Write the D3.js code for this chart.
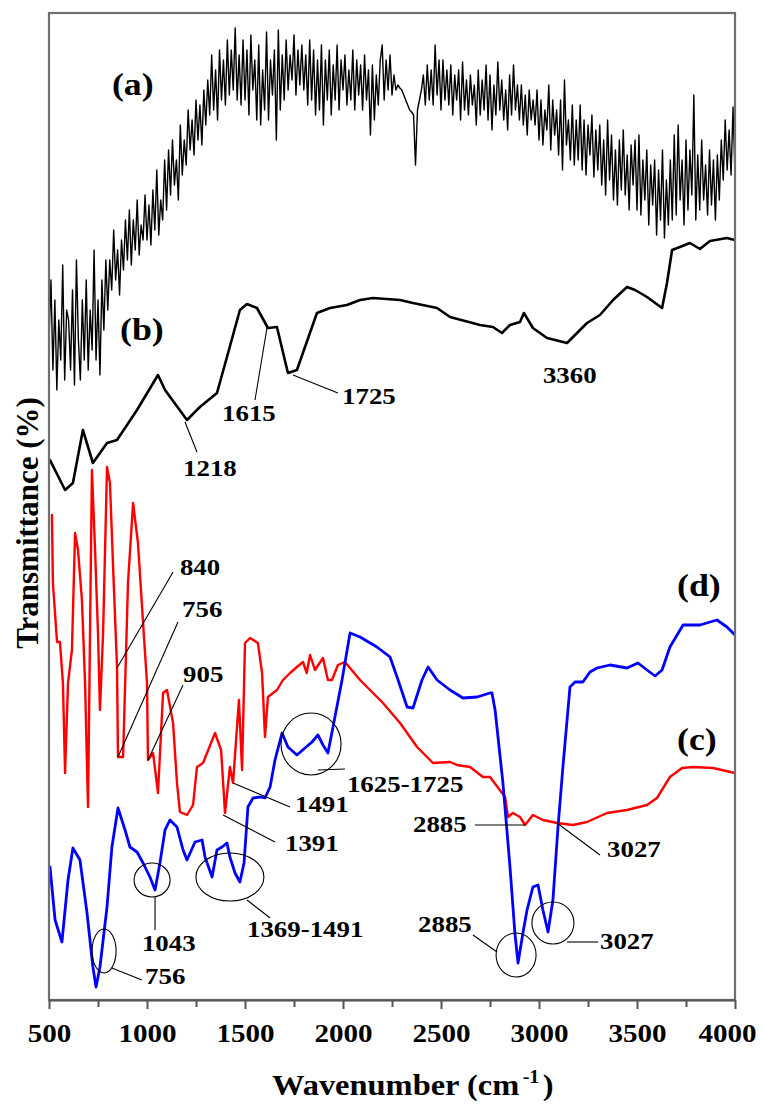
<!DOCTYPE html>
<html>
<head>
<meta charset="utf-8">
<script src="https://cdnjs.cloudflare.com/ajax/libs/d3/7.8.5/d3.min.js"></script>
<style>
  body { margin: 0; background: #fff; }
  svg text { font-family: "Liberation Serif", "Times New Roman", Times, serif; font-weight: bold; fill: #000; }
</style>
</head>
<body>
<svg id="chart" width="764" height="1106"></svg>
<script>
// wavenumber (cm-1), transmittance (arbitrary offset units)
const specA = [
  [500,66],[510,72],[520,63],[530,70],[540,61],[550,68],[560,64],[570,73.5],[580,62],[590,69],
  [600,68],[610,63],[620,71],[630,61.5],[640,74],[650,66],[660,62],[670,70],[680,64],[690,72],
  [700,63],[710,69],[720,65],[730,75],[740,64],[750,70],[760,62.5],[770,72],[780,67],[790,74],
  [800,69],[810,74],[820,71],[830,77],[840,72],[850,75],[860,70.5],[870,76],[880,73],[890,78],
  [900,74],[910,79],[920,73.5],[930,78],[940,75],[950,80],[960,74.5],[970,77.5],[980,76],[990,80.5],
  [1000,76],[1010,79.5],[1020,75.5],[1030,81],[1040,77],[1050,83],[1060,76.5],[1070,80],[1080,78],[1090,84],
  [1100,79],[1110,85],[1120,80.5],[1130,86],[1140,81.5],[1150,84],[1160,80],[1170,87.5],[1180,82.5],[1190,86],
  [1200,83.5],[1210,89],[1220,85],[1230,88],[1240,84.5],[1250,90],[1260,86],[1270,89.5],[1280,85.5],[1290,91],
  [1300,87.5],[1310,92],[1320,88.5],[1330,94.5],[1340,89],[1350,93],[1360,88],[1370,95],[1380,90],[1390,94],
  [1400,89.5],[1410,96],[1420,90.5],[1430,95],[1440,91],[1450,97.2],[1460,90],[1470,94.5],[1480,89.5],[1490,96],
  [1500,90],[1510,95],[1520,88.5],[1530,96.5],[1540,91],[1550,94],[1560,88],[1570,95.5],[1580,87.5],[1590,93],
  [1600,89],[1610,96.8],[1620,88],[1630,94],[1640,90.5],[1650,95],[1660,86],[1670,97],[1680,89],[1690,94.5],
  [1700,90],[1710,96],[1720,91],[1730,94.5],[1740,92],[1750,96.5],[1760,90.5],[1770,95],[1780,91.5],[1790,95.5],
  [1800,91],[1810,94.5],[1820,89.5],[1830,96],[1840,90],[1850,95],[1860,88.5],[1870,94],[1880,89],[1890,95.5],
  [1900,87.5],[1910,94],[1920,90],[1930,95],[1940,88.5],[1950,93.5],[1960,90],[1970,95.5],[1980,89],[1990,94],
  [2000,91],[2010,94.5],[2020,89.5],[2030,93],[2040,90],[2050,95],[2060,89],[2070,94],[2080,90.5],[2090,93.5],
  [2100,89],[2110,94.5],[2120,90],[2130,93],[2140,86.5],[2150,93.5],[2160,88],[2170,92.5],[2180,89.5],[2190,94],
  [2200,95.5],[2210,90],[2220,94],[2230,91],[2240,94.5],[2250,90.5],[2260,92.5],[2270,91],[2280,91.5],[2290,91.2],
  [2300,91],[2310,90.5],[2320,90],[2330,89.5],[2340,89],[2350,88.8],[2360,88.5],[2370,83.5],[2380,89],[2390,90],
  [2400,91],[2410,92.5],[2420,89.5],[2430,93.5],[2440,90],[2450,93],[2460,89.5],[2470,95.5],[2480,90.5],[2490,94],
  [2500,89],[2510,94],[2520,90],[2530,93],[2540,89.5],[2550,93.5],[2560,88.5],[2570,92.5],[2580,90],[2590,93],
  [2600,88],[2610,93.8],[2620,89],[2630,92],[2640,88.5],[2650,92.5],[2660,89.5],[2670,91.5],[2680,87.5],[2690,93],
  [2700,88.5],[2710,92],[2720,89],[2730,93.5],[2740,88],[2750,92.5],[2760,87],[2770,91.5],[2780,88.5],[2790,93.8],
  [2800,89],[2810,92],[2820,88],[2830,91],[2840,87],[2850,92.5],[2860,88.5],[2870,93.5],[2880,89],[2890,91.5],
  [2900,88],[2910,91.5],[2920,87.5],[2930,90.5],[2940,86.5],[2950,91],[2960,88],[2970,90],[2980,87.5],[2990,91],
  [3000,86],[3010,90],[3020,85.5],[3030,89],[3040,87],[3050,91.5],[3060,85],[3070,90],[3080,86.5],[3090,89],
  [3100,84.5],[3110,90],[3120,83],[3130,92],[3140,85.5],[3150,88],[3160,84],[3170,89.5],[3180,83.5],[3190,88],
  [3200,84],[3210,89.5],[3220,83],[3230,88],[3240,82.5],[3250,87.5],[3260,84.5],[3270,88.5],[3280,82.3],[3290,87],
  [3300,83],[3310,87.5],[3320,81.5],[3330,86],[3340,80.5],[3350,88],[3360,82],[3370,86.5],[3380,80],[3390,85],
  [3400,79.5],[3410,86],[3420,81],[3430,87],[3440,80.5],[3450,84.5],[3460,79],[3470,85.5],[3480,81.5],[3490,86],
  [3500,79],[3510,86.5],[3520,78.5],[3530,84],[3540,80],[3550,85],[3560,77.5],[3570,83.5],[3580,79.5],[3590,84],
  [3600,76.5],[3610,83],[3620,78],[3630,85],[3640,76.2],[3650,82],[3660,77.5],[3670,84],[3680,78],[3690,86.5],
  [3700,78.5],[3710,87.5],[3720,80],[3730,84],[3740,77.5],[3750,86],[3760,79],[3770,85],[3780,80.5],[3790,90.5],
  [3800,78],[3810,84.5],[3820,79],[3830,86],[3840,80],[3850,83.5],[3860,78.5],[3870,85],[3880,79.5],[3890,84],
  [3900,78],[3910,84.5],[3920,80],[3930,86],[3940,82],[3950,88],[3960,83],[3970,87],[3980,82.5],[3990,89.3],
  [4000,82.5]
];

const specB = [
  [505,54.0],[582,51.0],[622,51.7],[673,57.0],[724,53.7],[796,55.7],[847,56.0],[949,59.0],[1056,62.5],[1092,61.0],
  [1204,58.0],[1270,59.3],[1357,60.7],[1408,64.3],[1474,69.0],[1510,69.6],[1561,69.2],[1617,67.2],[1663,67.3],[1719,62.7],
  [1765,63.0],[1867,68.7],[1934,69.2],[2020,69.5],[2087,70.0],[2153,70.2],[2291,70.0],[2357,69.7],[2480,69.2],[2546,68.3],
  [2699,67.5],[2765,67.3],[2811,66.7],[2852,67.5],[2903,67.8],[2923,68.7],[2969,67.2],[3041,66.2],[3143,65.7],[3245,67.7],
  [3311,68.5],[3378,70.0],[3449,71.3],[3490,71.0],[3551,70.3],[3628,69.2],[3653,71.7],[3679,75.0],[3719,75.3],[3770,75.7],
  [3821,75.1],[3872,75.9],[3959,76.2],[4000,76.0]
];

const specC = [
  [515,48.5],[520,41.7],[541,35.8],[556,35.8],[571,31.7],[582,22.7],[597,31.7],[617,35.0],[633,46.7],[648,45.0],
  [668,40.0],[684,31.7],[699,19.3],[719,53.0],[735,45.0],[750,36.7],[760,29.0],[776,36.7],[796,53.3],[811,51.7],
  [827,43.3],[847,33.3],[852,24.3],[878,24.3],[903,41.7],[929,49.7],[954,45.7],[980,37.7],[1000,31.7],[1005,24.0],
  [1031,24.7],[1056,20.7],[1082,30.7],[1102,31.0],[1133,27.7],[1153,21.7],[1168,18.8],[1204,18.5],[1235,19.5],[1255,23.3],
  [1286,23.7],[1347,26.7],[1378,25.0],[1398,18.7],[1423,23.3],[1439,21.7],[1469,30.0],[1485,23.0],[1500,35.7],[1526,36.2],
  [1566,35.7],[1587,32.7],[1602,26.3],[1617,30.3],[1663,31.0],[1694,32.0],[1730,32.7],[1765,33.3],[1796,33.8],[1815,32.7],
  [1832,34.5],[1857,33.0],[1898,34.2],[1923,32.0],[1944,32.0],[1974,33.5],[2010,33.8],[2087,32.0],[2204,29.7],[2291,27.7],
  [2378,25.3],[2459,23.7],[2546,23.8],[2582,23.5],[2648,23.3],[2714,22.3],[2750,22.3],[2827,20.3],[2842,18.3],[2867,18.7],
  [2903,18.3],[2929,17.5],[2969,18.5],[3020,18.0],[3092,17.7],[3173,17.5],[3245,17.8],[3347,18.7],[3449,19.0],[3551,19.5],
  [3602,20.2],[3668,22.3],[3730,23.2],[3786,23.3],[3888,23.2],[4000,22.7]
];

const specD = [
  [505,13.3],[531,8.0],[566,5.8],[597,12.0],[622,15.2],[658,14.0],[694,8.7],[724,3.3],[740,1.3],[760,3.3],
  [796,9.3],[821,15.3],[852,19.2],[888,17.0],[913,15.3],[949,14.8],[980,13.7],[1015,12.3],[1041,11.0],[1066,13.7],
  [1092,17.0],[1117,18.0],[1153,17.3],[1184,15.0],[1204,14.0],[1245,15.8],[1281,16.0],[1296,14.3],[1332,12.3],[1357,15.0],
  [1383,15.3],[1408,15.7],[1423,14.3],[1449,12.7],[1474,11.8],[1495,13.7],[1515,19.3],[1541,20.2],[1577,20.3],[1602,20.2],
  [1628,21.3],[1653,24.0],[1689,26.7],[1719,25.3],[1765,24.5],[1806,25.2],[1842,25.8],[1872,26.5],[1898,25.5],[1923,24.7],
  [1949,27.3],[1995,32.0],[2036,36.7],[2087,36.3],[2173,35.3],[2240,34.3],[2281,32.0],[2327,29.3],[2357,29.2],[2403,32.0],
  [2434,33.3],[2480,32.0],[2546,31.0],[2612,30.2],[2684,30.3],[2750,30.7],[2760,30.7],[2776,29.0],[2816,21.7],[2852,13.3],
  [2877,6.7],[2893,3.7],[2918,6.7],[2939,9.0],[2969,11.3],[2995,11.5],[3020,9.0],[3046,6.8],[3071,10.0],[3097,17.3],
  [3122,23.3],[3158,31.3],[3184,31.8],[3224,31.8],[3260,32.8],[3296,33.2],[3362,33.5],[3449,33.2],[3505,33.7],[3551,33.0],
  [3592,32.4],[3628,33.0],[3668,35.3],[3735,37.5],[3821,37.5],[3908,38.0],[3959,37.3],[4000,36.5]
];

const xTicks = [500, 1000, 1500, 2000, 2500, 3000, 3500, 4000];
const xMinorTicks = [750, 1250, 1750, 2250, 2750, 3250, 3750];

// series labels: [text, wavenumber, T]
const seriesLabels = [
  ["(a)", 821, 90.5], ["(b)", 862, 66.0], ["(d)", 3704, 40.4], ["(c)", 3704, 25.0]
];

// peak notes: text, text anchor (w,T), leader from/to (w,T), optional ellipse centre (w,T) + radii
const notes = [
  {t: "1615", at: [1383, 57.9], l: [[1612, 67.2], [1551, 60.0]]},
  {t: "1725", at: [1995, 59.6], l: [[1745, 62.5], [1974, 60.7]]},
  {t: "1218", at: [1184, 52.4], l: [[1194, 57.8], [1255, 54.8]]},
  {t: "3360", at: [3020, 61.7]},
  {t: "840",  at: [1168, 42.5], l: [[847, 33.2], [1133, 42.8]]},
  {t: "756",  at: [1179, 38.3], l: [[852, 24.3], [1158, 37.8]]},
  {t: "905",  at: [1184, 31.8], l: [[1005, 24.0], [1184, 31.5]]},
  {t: "1491", at: [1755, 18.8], l: [[1439, 21.7], [1730, 19.3]]},
  {t: "1625-1725", at: [2020, 20.8], l: [[1872, 23.0], [2010, 23.1]], e: [1837, 25.6, 30, 31]},
  {t: "1391", at: [1704, 14.9], l: [[1388, 18.5], [1653, 15.8]]},
  {t: "1043", at: [974, 4.9], l: [[1041, 10.3], [1041, 7.0]], e: [1026, 12.0, 18, 17]},
  {t: "1369-1491", at: [1510, 6.3], l: [[1510, 10.0], [1628, 8.2]], e: [1423, 12.3, 34, 24]},
  {t: "756",  at: [990, 1.6], l: [[821, 3.2], [974, 2.0]], e: [781, 4.9, 12, 22]},
  {t: "2885", at: [2357, 16.8], l: [[2673, 17.5], [2929, 17.5]]},
  {t: "3027", at: [3347, 14.3], l: [[3092, 17.7], [3311, 14.5]]},
  {t: "2885", at: [2383, 6.8], l: [[2663, 6.5], [2786, 4.8]], e: [2883, 4.5, 20, 22]},
  {t: "3027", at: [3311, 5.1], l: [[3143, 5.8], [3301, 5.8]], e: [3071, 7.7, 21, 21]}
];

const svg = d3.select("#chart");
const margin = {top: 13, right: 29, bottom: 106, left: 49};
const width = 764 - margin.left - margin.right;
const height = 1106 - margin.top - margin.bottom;
const sx = 1.12; // the original figure is a little stretched sideways

const x = d3.scaleLinear().domain([500, 4000]).range([0, width]);
const y = d3.scaleLinear().domain([0, height / 10]).range([height, 0]);

const g = svg.append("g").attr("transform", `translate(${margin.left},${margin.top})`);

g.append("clipPath").attr("id", "plotclip")
  .append("rect").attr("width", width).attr("height", height);

function text(sel, str, px, py, size, anchor) {
  return sel.append("text")
    .attr("transform", `translate(${px},${py}) scale(${sx},1)`)
    .attr("text-anchor", anchor || "start")
    .style("font-size", size + "px")
    .text(str);
}

// spectra
const line = d3.line().x(d => x(d[0])).y(d => y(d[1]));
const curves = g.append("g").attr("clip-path", "url(#plotclip)")
  .attr("fill", "none").attr("stroke-linejoin", "round").attr("stroke-linecap", "round");
curves.append("path").datum(specA).attr("d", line).attr("stroke", "#000").attr("stroke-width", 1.4);
curves.append("path").datum(specB).attr("d", line).attr("stroke", "#000").attr("stroke-width", 2.6);
curves.append("path").datum(specC).attr("d", line).attr("stroke", "#ff0000").attr("stroke-width", 2.4);
curves.append("path").datum(specD).attr("d", line).attr("stroke", "#0000ff").attr("stroke-width", 2.8);

// frame
g.append("rect").attr("width", width).attr("height", height)
  .attr("fill", "none").attr("stroke", "#707070").attr("stroke-width", 2.2);

// x axis
const xAxis = g.append("g").attr("transform", `translate(0,${height})`)
  .call(d3.axisBottom(x).tickValues(xTicks).tickFormat(d3.format("d"))
    .tickSize(9).tickSizeOuter(0));
xAxis.select(".domain").attr("stroke", "#555").attr("stroke-width", 2.2);
xAxis.selectAll(".tick line").attr("stroke", "#555").attr("stroke-width", 2);
xAxis.selectAll(".tick text")
  .attr("y", null).attr("dy", null)
  .attr("transform", d => `translate(${d === 4000 ? -8 : 0},42) scale(${sx},1)`)
  .style("font-size", "26px").attr("fill", "#000");

const xMinor = g.append("g").attr("transform", `translate(0,${height})`)
  .call(d3.axisBottom(x).tickValues(xMinorTicks).tickSize(7).tickFormat(""));
xMinor.select(".domain").remove();
xMinor.selectAll(".tick line").attr("stroke", "#555").attr("stroke-width", 2);

// axis titles
const xt = svg.append("text")
  .attr("transform", `translate(272,1095) scale(${sx},1)`)
  .style("font-size", "29px");
xt.append("tspan").text("Wavenumber (cm");
xt.append("tspan").attr("dx", 3).attr("dy", -12).style("font-size", "18px").text("-1");
xt.append("tspan").attr("dx", 3).attr("dy", 12).text(")");

svg.append("text")
  .attr("transform", "translate(38,523) rotate(-90)")
  .attr("text-anchor", "middle")
  .style("font-size", "31px")
  .text("Transmittance (%)");

// series labels
seriesLabels.forEach(([t, w, v]) => text(g, t, x(w), y(v), 32));

// annotations
const ann = g.append("g");
notes.forEach(n => {
  if (n.l) {
    ann.append("line")
      .attr("x1", x(n.l[0][0])).attr("y1", y(n.l[0][1]))
      .attr("x2", x(n.l[1][0])).attr("y2", y(n.l[1][1]))
      .attr("stroke", "#000").attr("stroke-width", 1.1);
  }
  if (n.e) {
    ann.append("ellipse")
      .attr("cx", x(n.e[0])).attr("cy", y(n.e[1]))
      .attr("rx", n.e[2]).attr("ry", n.e[3])
      .attr("fill", "none").attr("stroke", "#000").attr("stroke-width", 1.1);
  }
  text(ann, n.t, x(n.at[0]), y(n.at[1]), 24);
});
</script>
</body>
</html>
